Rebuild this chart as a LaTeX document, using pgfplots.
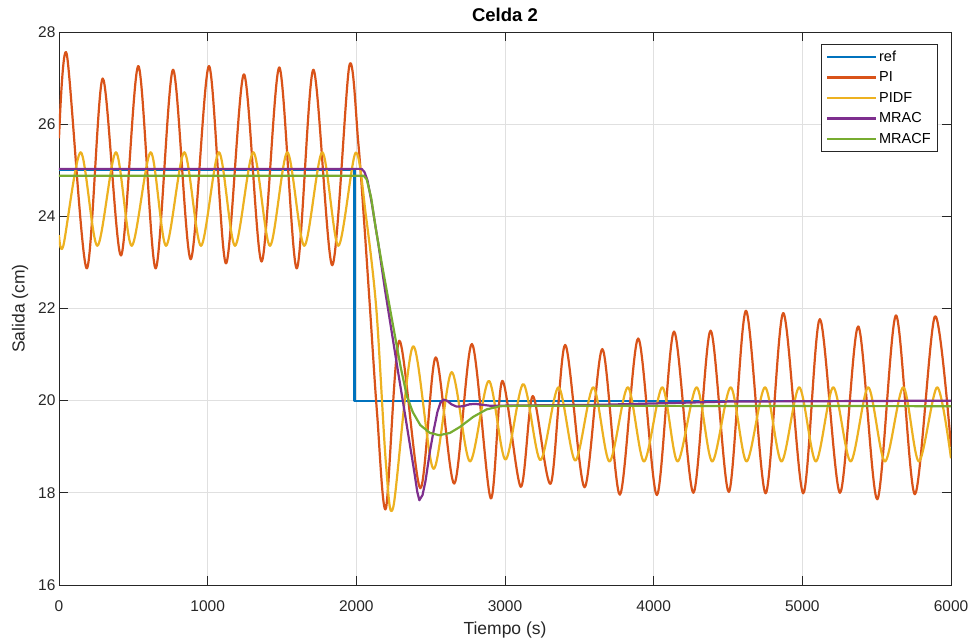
\documentclass[border=0pt]{standalone}
\usepackage{fontspec}
\setmainfont{Liberation Sans}
\usepackage{pgfplots}
\pgfplotsset{compat=1.18}

% MATLAB default line colours
\definecolor{mblue}{rgb}{0,0.447,0.741}
\definecolor{morange}{rgb}{0.850,0.325,0.098}
\definecolor{myellow}{rgb}{0.929,0.694,0.125}
\definecolor{mpurple}{rgb}{0.494,0.184,0.556}
\definecolor{mgreen}{rgb}{0.466,0.674,0.188}
\definecolor{axgray}{rgb}{0.15,0.15,0.15}

\begin{document}
\begin{tikzpicture}
\begin{axis}[
    name=ax,
    scale only axis,
    width=892pt,
    height=553pt,
    xmin=0, xmax=6000,
    ymin=16, ymax=28,
    xtick={0,1000,...,6000},
    ytick={16,18,...,28},
    /pgf/number format/assume math mode=true,
    scaled x ticks=false,
    xticklabel style={/pgf/number format/set thousands separator={}, yshift=-12pt},
    grid=major,
    grid style={color=black!12, line width=0.8pt},
    axis line style={color=axgray, line width=0.8pt},
    tick style={color=axgray, line width=0.8pt},
    tick align=inside,
    major tick length=9pt,
    tick pos=both,
    ticklabel pos=left,
    ticklabel style={font=\fontsize{15.5}{18}\selectfont, text=axgray},
    xlabel={Tiempo (s)},
    ylabel={Salida (cm)},
    label style={font=\fontsize{17.5}{20}\selectfont, text=axgray},
    xlabel style={yshift=-3pt},
    ylabel style={yshift=3pt},
    title={Celda 2},
    title style={font=\fontsize{18.5}{21}\selectfont\bfseries, text=black, yshift=1pt},
    legend style={
        at={(0.9854,0.9783)}, anchor=north east,
        font=\fontsize{14.5}{17}\selectfont,
        draw=axgray, line width=0.6pt,
        inner xsep=5pt, inner ysep=4.5pt,
        row sep=5pt,
    },
    legend cell align=left,
    legend image code/.code={\draw[#1] (0pt,0pt) -- (49pt,0pt);},
    every axis plot/.append style={line width=2.2pt, line join=round},
]

% ref
\addplot[mblue] coordinates {
    (0,25) (1988,25) (1988,20) (6000,20)
};
\addlegendentry{ref}

% PI
\addplot[morange, smooth, tension=0.5] coordinates {
    (0,25.69) (52,27.52) (186,22.87) (294,26.99) (417,23.15) (534,27.26)
    (650,22.87) (767,27.18) (886,23.07) (1009,27.26) (1123,22.98) (1244,27.08)
    (1363,23.02) (1482,27.23) (1599,22.87) (1711,27.18) (1838,22.94) (1953,27.27)
    (2013,25.6) (2050,24.0) (2092,22.0) (2140,19.7) (2199,17.66) (2289,21.30)
    (2430,18.10) (2534,20.94) (2659,18.20) (2778,21.23) (2904,17.88) (2982,20.43)
    (3106,18.13) (3187,20.10) (3308,18.20) (3405,21.21) (3535,18.12) (3655,21.12)
    (3773,17.96) (3896,21.35) (4022,17.95) (4137,21.50) (4267,18.00) (4383,21.52)
    (4506,18.02) (4621,21.95) (4753,17.99) (4872,21.90) (5006,17.99) (5118,21.77)
    (5253,18.00) (5376,21.61) (5504,17.86) (5630,21.85) (5757,17.97) (5892,21.83)
    (6000,19.0)
};
\addlegendentry{PI}

% PIDF
\addplot[myellow, smooth, tension=0.5] coordinates {
    (0,23.59) (29,23.36) (146,25.39) (258,23.36) (383,25.39) (489,23.36)
    (617,25.39) (720,23.36) (843,25.39) (955,23.36) (1076,25.39) (1184,23.36)
    (1307,25.39) (1419,23.36) (1536,25.39) (1650,23.36) (1771,25.39) (1879,23.36)
    (1995,25.38) (2065,24.0) (2135,21.97) (2200,18.6) (2249,17.70) (2381,21.18)
    (2518,18.52) (2641,20.62) (2764,18.68) (2891,20.43) (3003,18.72) (3123,20.36)
    (3238,18.71) (3360,20.29) (3473,18.70) (3594,20.29) (3703,18.68) (3826,20.29)
    (3935,18.68) (4058,20.29) (4161,18.68) (4289,20.29) (4394,18.68) (4518,20.29)
    (4625,18.68) (4749,20.29) (4860,18.68) (4979,20.29) (5091,18.68) (5208,20.29)
    (5325,18.68) (5443,20.29) (5556,18.68) (5679,20.29) (5784,18.68) (5907,20.29)
    (6000,18.75)
};
\addlegendentry{PIDF}

% MRAC
\addplot[mpurple] coordinates {
    (0,25.03) (2036,25.03) (2055,24.96) (2075,24.78) (2103,24.3) (2148,23.4)
    (2193,22.4) (2240,21.45) (2282,20.6) (2320,19.85) (2360,19.05) (2390,18.45)
    (2410,18.02) (2424,17.84) (2445,17.95) (2465,18.25) (2495,18.9) (2520,19.35)
    (2545,19.75) (2565,19.95) (2585,20.02) (2610,20.0) (2640,19.92) (2675,19.87)
    (2720,19.88) (2760,19.92) (2800,19.93) (2900,19.89) (3640,19.91) (4500,19.98)
    (6000,20.0)
};
\addlegendentry{MRAC}

% MRACF
\addplot[mgreen] coordinates {
    (0,24.88) (2050,24.88) (2070,24.8) (2100,24.4) (2130,23.75) (2170,23.0)
    (2215,22.2) (2260,21.4) (2300,20.7) (2340,20.1) (2380,19.75) (2430,19.47)
    (2495,19.3) (2558,19.25) (2630,19.3) (2697,19.43) (2787,19.65) (2876,19.81)
    (2966,19.88) (3100,19.89) (6000,19.88)
};
\addlegendentry{MRACF}

\end{axis}
\pgfresetboundingbox
\path ([shift={(-59pt,-56pt)}]ax.south west) rectangle ([shift={(24pt,32pt)}]ax.north east);
\end{tikzpicture}
\end{document}
